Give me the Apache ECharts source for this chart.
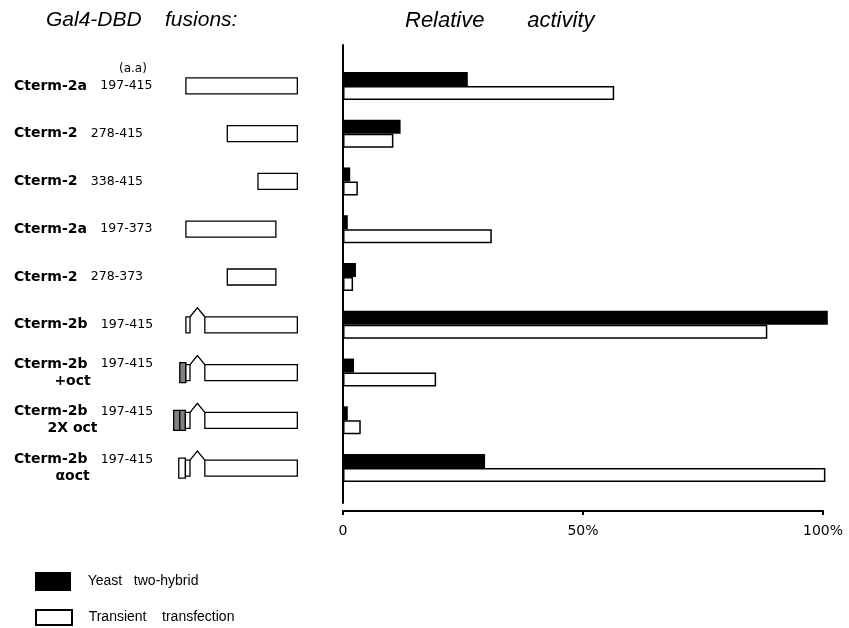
<!DOCTYPE html>
<html><head><meta charset="utf-8">
<script src="https://cdn.jsdelivr.net/npm/echarts@6/dist/echarts.min.js"></script>
<style>html,body{margin:0;padding:0;background:#fff}#chart{width:849px;height:628px}</style>
</head><body><div id="chart"></div>
<script>
// ---- data ----
const constructNames = ['Cterm-2a','Cterm-2','Cterm-2','Cterm-2a','Cterm-2','Cterm-2b','Cterm-2b','Cterm-2b','Cterm-2b'];
const aaRanges = ['197-415','278-415','338-415','197-373','278-373','197-415','197-415','197-415','197-415'];
const constructNotes = ['','','','','','','+oct','2X oct','\u03b1oct'];
const yeastTwoHybrid = [26, 12, 1.5, 1, 2.7, 101, 2.3, 1, 29.6];
const transientTransfection = [56.5, 10.5, 3.1, 31, 2.1, 88.4, 19.4, 3.7, 100.5];
const activityTickLabels = {0:'0', 50:'50%', 100:'100%'};
// diagram parts: [row, start (aa scale), end (aa scale), kind]
const diagramParts = [
  [0,197,415,'box'],
  [1,278,415,'box'],
  [2,338,415,'box'],
  [3,197,373,'box'],
  [4,278,373,'box'],
  [5,197,205,'box'],[5,205,234,'link'],[5,234,415,'box'],
  [6,185,197,'oct'],[6,197,205,'box'],[6,205,234,'link'],[6,234,415,'box'],
  [7,173,185,'oct'],[7,185,196,'oct'],[7,196,205,'box'],[7,205,234,'link'],[7,234,415,'box'],
  [8,183,196,'tall'],[8,196,205,'box'],[8,205,234,'link'],[8,234,415,'box']
];
const seriesNames = ['Yeast   two-hybrid', 'Transient    transfection'];
const rowKeys = constructNames.map((n,i)=> n+' '+aaRanges[i]+(constructNotes[i]?' '+constructNotes[i]:''));

// ---- chart ----
const chart = echarts.init(document.getElementById('chart'), null, {renderer:'canvas'});
const titleStyle = {fontFamily:'Liberation Sans', fontStyle:'italic', fontWeight:'normal', fontSize:21, color:'#000'};

function renderDiagram(params, api){
  const kind = diagramParts[params.dataIndex][3];
  const a = api.coord([api.value(1), api.value(0)]);
  const b = api.coord([api.value(2), api.value(0)]);
  const cy = a[1];
  if (kind === 'link') {
    return {type:'polyline', shape:{points:[[a[0],cy-8],[(a[0]+b[0])/2,cy-17],[b[0],cy-8]]},
      style:{stroke:'#000', lineWidth:1.3, fill:null}};
  }
  const h = (kind==='oct' || kind==='tall') ? 20 : 16;
  return {type:'rect', shape:{x:a[0], y:cy-h/2, width:b[0]-a[0], height:h},
    style:{fill: kind==='oct' ? '#808080' : '#fff', stroke:'#000', lineWidth:1.3}};
}

const legendCommon = {
  orient:'vertical', left:30, itemWidth:36, icon:'rect',
  formatter: n => '   ' + n,
  textStyle:{fontFamily:'Liberation Sans', fontSize:14, color:'#000'}
};

chart.setOption({
  animation:false,
  backgroundColor:'#fff',
  title:[
    {text:'Gal4-DBD    fusions:', left:41, top:5, textStyle:titleStyle},
    {text:'Relative       activity', left:400, top:5, textStyle:Object.assign({}, titleStyle, {fontSize:22})},
    {text:'(a.a)', left:114, top:58, textStyle:{fontFamily:'DejaVu Sans', fontWeight:'normal', fontSize:12, color:'#000'}}
  ],
  legend:[
    Object.assign({top:567, itemHeight:19, data:[seriesNames[0]]}, legendCommon),
    Object.assign({top:604, itemHeight:15, data:[seriesNames[1]]}, legendCommon)
  ],
  grid:[
    {left:343, width:480, top:62, height:430},
    {left:343, width:480, top:45, height:458},
    {left:167, width:138, top:62, height:430}
  ],
  xAxis:[
    {gridIndex:0, type:'value', min:0, max:100, interval:50, offset:19,
     axisLine:{show:true, lineStyle:{color:'#000', width:2}},
     axisTick:{show:true, length:4, lineStyle:{color:'#000', width:2}},
     splitLine:{show:false},
     axisLabel:{margin:13, fontFamily:'DejaVu Sans', fontSize:14, color:'#000', formatter: v => activityTickLabels[v]}},
    {gridIndex:1, type:'value', min:0, max:1, show:false},
    {gridIndex:2, type:'value', min:160, max:430, show:false}
  ],
  yAxis:[
    {gridIndex:0, type:'category', inverse:true, data:rowKeys, show:false},
    {gridIndex:1, type:'value', min:0, max:1,
     axisLine:{show:true, lineStyle:{color:'#000', width:2}}, axisTick:{show:false},
     axisLabel:{show:false}, splitLine:{show:false}},
    {gridIndex:2, type:'category', inverse:true, data:rowKeys,
     axisLine:{show:false}, axisTick:{show:false}, splitLine:{show:false},
     axisLabel:{align:'left', margin:153, color:'#000',
       formatter:(v,i)=>{
         let s = '{n|'+constructNames[i]+'}    {r|'+aaRanges[i]+'}';
         if (constructNotes[i]) s += '\n{o|'+constructNotes[i]+'}{sp| }';
         return s;
       },
       rich:{
         n:{fontFamily:'DejaVu Sans', fontWeight:'bold', fontSize:14, color:'#000', lineHeight:17},
         r:{fontFamily:'DejaVu Sans', fontSize:12.5, color:'#000', lineHeight:17},
         o:{fontFamily:'DejaVu Sans', fontWeight:'bold', fontSize:14, color:'#000', align:'center', lineHeight:17},
         sp:{width:22, align:'right', fontSize:14, lineHeight:17}
       }}}
  ],
  series:[
    {name:seriesNames[0], type:'bar', xAxisIndex:0, yAxisIndex:0, data:yeastTwoHybrid,
     barWidth:14, barGap:'0%', clip:false, itemStyle:{color:'#000'}},
    {name:seriesNames[1], type:'bar', xAxisIndex:0, yAxisIndex:0, data:transientTransfection,
     barWidth:14, barGap:'0%', clip:false, itemStyle:{color:'#fff', borderColor:'#000', borderWidth:1.5}},
    {type:'custom', xAxisIndex:2, yAxisIndex:2, renderItem:renderDiagram,
     encode:{x:[1,2], y:0}, data:diagramParts.map(p=>[p[0],p[1],p[2]]), silent:true}
  ]
});
</script></body></html>
